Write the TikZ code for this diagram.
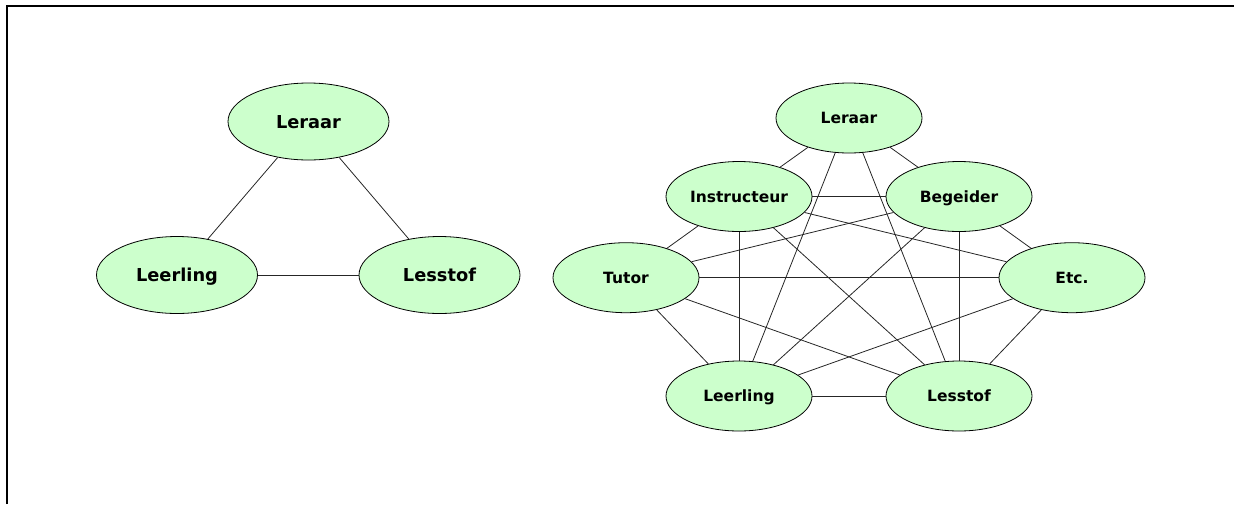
\documentclass[tikz,border=0pt]{standalone}
\usepackage{fontspec}
\setmainfont{DejaVu Sans}
\usetikzlibrary{shapes.geometric}
\definecolor{bubblefill}{HTML}{CCFFCC}
\begin{document}
\begin{tikzpicture}[x=1pt,y=-1pt,
  bubble/.style={ellipse,draw=black,line width=0.8pt,fill=bubblefill,inner sep=0pt,
    text depth=0pt},
  bigbub/.style={bubble,minimum width=161pt,minimum height=77pt,text height=13pt,
    font=\fontsize{17.8}{20}\selectfont\bfseries},
  smallbub/.style={bubble,minimum width=146pt,minimum height=70pt,text height=11.3pt,
    font=\fontsize{15.5}{18}\selectfont\bfseries},
  link/.style={line width=0.8pt,draw=black!85},
  frameline/.style={line width=2.2pt,draw=black}]
\useasboundingbox (0,0) rectangle (1234,504);
\draw[frameline] (7,504) -- (7,6) -- (1234,6);
% left graph
\node[bigbub] (aLeraar) at (308.5,121.5) {Leraar};
\node[bigbub] (aLeerling) at (177,275) {Leerling};
\node[bigbub] (aLesstof) at (439.5,275) {Lesstof};
\draw[link] (aLeraar) -- (aLeerling);
\draw[link] (aLeraar) -- (aLesstof);
\draw[link] (aLeerling) -- (aLesstof);
% right graph
\node[smallbub] (bLeraar) at (849,118) {Leraar};
\node[smallbub] (bInstr) at (739,196.5) {Instructeur};
\node[smallbub] (bBeg) at (959,196.5) {Begeider};
\node[smallbub] (bTutor) at (626,277.7) {Tutor};
\node[smallbub] (bEtc) at (1072,277.7) {Etc.};
\node[smallbub] (bLeerling) at (739,396) {Leerling};
\node[smallbub] (bLesstof) at (959,396) {Lesstof};
\foreach \a/\b in {bLeraar/bInstr,bLeraar/bBeg,bLeraar/bLeerling,bLeraar/bLesstof,
  bInstr/bBeg,bInstr/bTutor,bInstr/bLeerling,bInstr/bLesstof,bInstr/bEtc,
  bBeg/bTutor,bBeg/bEtc,bBeg/bLesstof,bBeg/bLeerling,
  bTutor/bEtc,bTutor/bLeerling,bTutor/bLesstof,
  bEtc/bLeerling,bEtc/bLesstof,bLeerling/bLesstof}
  \draw[link] (\a) -- (\b);
\end{tikzpicture}
\end{document}
